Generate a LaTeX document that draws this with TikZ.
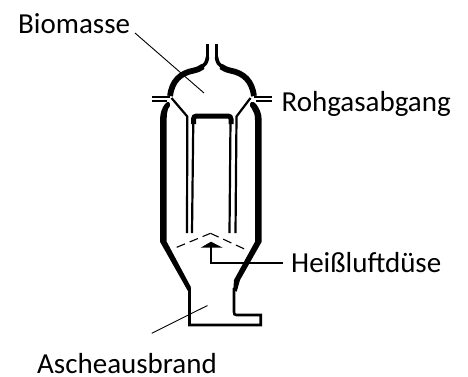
\documentclass[tikz,border=0pt]{standalone}
\usepackage{fontspec}
\setmainfont{Carlito}
\tikzset{
  lbl/.style={inner sep=0pt,anchor=base west,font=\fontsize{29}{32}\selectfont},
  thinwall/.style={line width=2.2pt,line join=miter},
  leader/.style={line width=0.9pt}
}
\begin{document}
\begin{tikzpicture}[x=1pt,y=-1pt]
\useasboundingbox (0,0) rectangle (468,376);
% labels
\node[lbl] (bio) at (18,33.5) {Biomasse};
\node[lbl] (roh) at (281.5,111) {Rohgasabgang};
\node[lbl] (hei) at (291,272.5) {Heißluftdüse};
\node[lbl] (asc) at (37,373.5) {Ascheausbrand};
% dome
\draw[line width=3.4pt] (207.5,44) -- (207.5,58);
\draw[line width=3.4pt] (216.5,44) -- (216.5,58);
\draw[line width=3.6pt] (207.5,57) .. controls (207,62) and (205,65) .. (202,67);
\draw[line width=3.6pt] (216.5,57) .. controls (217,62) and (219,65) .. (222,67);
\draw[line width=5.8pt] (203,66.5) .. controls (200,68.5) and (198,69.5) .. (194,70.5)
  .. controls (180,73) and (172,81) .. (170,96);
\draw[line width=5.8pt] (221,66.5) .. controls (224,68.5) and (226,69.5) .. (230,70.5)
  .. controls (244,73) and (252,81) .. (254,96);
% flanges
\draw[line width=2pt] (152,96.5) -- (170,96.5) (152,100.7) -- (167,100.7);
\draw[line width=2pt] (271.5,96.5) -- (254,96.5) (271.5,100.7) -- (256,100.7);
% inner shell
\draw[thinwall] (171.5,98) -- (187.3,116.5) -- (187,233);
\draw[thinwall] (250.5,98) -- (236.5,116.5) -- (235.5,233);
\draw[thinwall] (192,233) -- (193.3,120);
\draw[thinwall] (229.5,233) -- (230.5,120);
\draw[line width=5pt,rounded corners=3pt] (193.5,124) -- (193.5,116) -- (231,116) -- (231,124);
% outer walls
\fill (169,102) .. controls (171,105) and (170,107) .. (168,109)
  .. controls (167,112) and (166.7,115) .. (166.7,120) -- (166.7,241.7) -- (191,287.3) -- (188.3,291.7) -- (160,241.7) -- (160,120)
  .. controls (160,113) and (162,108) .. (165,104) .. controls (166,102.5) and (168,101.5) .. cycle;
\fill (251,102) .. controls (249,105) and (250,107) .. (252,109)
  .. controls (254,112) and (255,115) .. (255,120) -- (255,241.7) -- (234,280) -- (233.3,290) -- (236.7,291.7) -- (240,280) -- (261.7,241.7) -- (261.7,120)
  .. controls (261.7,113) and (259,108) .. (256,104) .. controls (255,102.5) and (253,101.5) .. cycle;
% ash chamber
\draw[line width=2.6pt,line join=miter] (189.5,288) -- (189.5,325) -- (260.7,325) -- (260.7,315) -- (236.5,315) .. controls (234.5,315) and (234,314) .. (234,312) -- (234,288);
% dashed grate
\draw[line width=1.1pt,dash pattern=on 9pt off 5pt] (176.7,247.3) -- (210.5,233.3);
\draw[line width=1.1pt,dash pattern=on 9pt off 5pt] (210.5,233.3) -- (246.7,250);
% air nozzle
\coordinate (hw) at (283.3,263.3);
\draw[line width=2pt] (hw) -- (211,263.3) -- (211,247);
\fill (200.7,247.7) -- (211,241.7) -- (222.7,247.7) -- cycle;
% leaders
\coordinate (l1) at (204,93);
\coordinate (l2) at (207.5,305.5);
\draw[leader] (135,33) -- (l1);
\draw[leader] (151.7,333.3) -- (l2);
\end{tikzpicture}
\end{document}
